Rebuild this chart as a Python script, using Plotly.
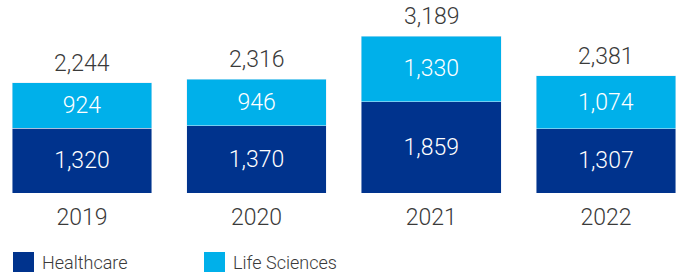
import plotly.graph_objects as go

years = ["2019", "2020", "2021", "2022"]
healthcare = [1320, 1370, 1859, 1307]
life_sciences = [924, 946, 1330, 1074]
totals = [2244, 2316, 3189, 2381]

DARK = "#00338D"
LIGHT = "#00B0EA"
GREY = "#3a3a3a"
FONT = "Roboto"

W, H = 677, 276
ML, MR, MT, MB = 0, 0, 0, 83
PH = H - MT - MB

def fmt(v):
    return f"{v:,}"

fig = go.Figure()
fig.add_trace(go.Bar(
    x=years, y=healthcare, name="Healthcare", marker_color=DARK,
    text=[fmt(v) for v in healthcare], textposition="inside",
    insidetextanchor="middle", constraintext="none",
    textfont=dict(color="white", size=23, family=FONT, weight=300),
    showlegend=False,
))
fig.add_trace(go.Bar(
    x=years, y=life_sciences, name="Life Sciences", marker_color=LIGHT,
    text=[fmt(v) for v in life_sciences], textposition="inside",
    insidetextanchor="middle", constraintext="none",
    textfont=dict(color="white", size=23, family=FONT, weight=300),
    showlegend=False,
))

for i, tot in enumerate(totals):
    fig.add_annotation(x=i, y=tot, xref="x", yref="y", text=fmt(tot), showarrow=False,
                       xanchor="center", yanchor="bottom", yshift=4,
                       font=dict(color=GREY, size=23, family=FONT, weight=300))

def px_to_paper_x(px):
    return (px - ML) / (W - ML - MR)

def px_to_paper_y(py):
    return (H - MB - py) / PH

legend_items = [("Healthcare", DARK, 13), ("Life Sciences", LIGHT, 204)]
for label, col, x0 in legend_items:
    fig.add_shape(type="rect", xref="paper", yref="paper",
                  x0=px_to_paper_x(x0), x1=px_to_paper_x(x0 + 21),
                  y0=px_to_paper_y(272), y1=px_to_paper_y(252),
                  fillcolor=col, line_width=0)
    fig.add_annotation(xref="paper", yref="paper",
                       x=px_to_paper_x(x0 + 27), y=px_to_paper_y(262),
                       xanchor="left", yanchor="middle", showarrow=False,
                       text=label,
                       font=dict(color=GREY, size=18, family=FONT, weight=300))

fig.update_layout(
    barmode="stack", bargap=0.2,
    width=W, height=H,
    margin=dict(l=ML, r=MR, t=MT, b=MB),
    plot_bgcolor="white", paper_bgcolor="white",
    font=dict(family=FONT, color=GREY),
)
fig.update_xaxes(type="category", range=[-0.469, 3.407], showgrid=False, showline=False,
                 ticks="", tickfont=dict(size=23, color=GREY, family=FONT, weight=300),
                 ticklabelstandoff=8)
fig.update_yaxes(range=[0, 3923], visible=False, showgrid=False)

fig.write_html("out.html", config={"displayModeBar": False},
               post_script="document.body.style.margin='0';")
